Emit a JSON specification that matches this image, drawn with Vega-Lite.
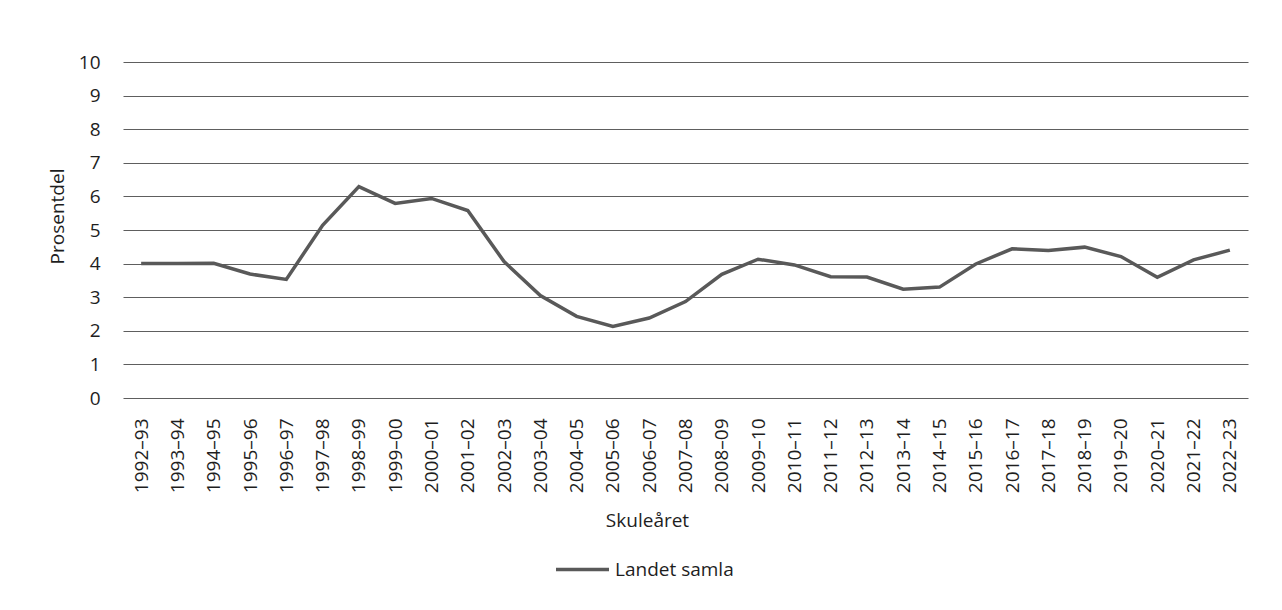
{
  "$schema": "https://vega.github.io/schema/vega-lite/v6.json",
  "width": 1125,
  "height": 336,
  "autosize": {"type": "none"},
  "padding": {"left": 123, "top": 62, "right": 34, "bottom": 212},
  "background": "white",
  "data": {
    "values": [
      {"year": "1992–93", "value": 4.0, "series": "Landet samla"},
      {"year": "1993–94", "value": 4.0, "series": "Landet samla"},
      {"year": "1994–95", "value": 4.01, "series": "Landet samla"},
      {"year": "1995–96", "value": 3.69, "series": "Landet samla"},
      {"year": "1996–97", "value": 3.53, "series": "Landet samla"},
      {"year": "1997–98", "value": 5.14, "series": "Landet samla"},
      {"year": "1998–99", "value": 6.29, "series": "Landet samla"},
      {"year": "1999–00", "value": 5.79, "series": "Landet samla"},
      {"year": "2000–01", "value": 5.94, "series": "Landet samla"},
      {"year": "2001–02", "value": 5.58, "series": "Landet samla"},
      {"year": "2002–03", "value": 4.06, "series": "Landet samla"},
      {"year": "2003–04", "value": 3.05, "series": "Landet samla"},
      {"year": "2004–05", "value": 2.43, "series": "Landet samla"},
      {"year": "2005–06", "value": 2.13, "series": "Landet samla"},
      {"year": "2006–07", "value": 2.38, "series": "Landet samla"},
      {"year": "2007–08", "value": 2.87, "series": "Landet samla"},
      {"year": "2008–09", "value": 3.68, "series": "Landet samla"},
      {"year": "2009–10", "value": 4.13, "series": "Landet samla"},
      {"year": "2010–11", "value": 3.96, "series": "Landet samla"},
      {"year": "2011–12", "value": 3.61, "series": "Landet samla"},
      {"year": "2012–13", "value": 3.6, "series": "Landet samla"},
      {"year": "2013–14", "value": 3.24, "series": "Landet samla"},
      {"year": "2014–15", "value": 3.3, "series": "Landet samla"},
      {"year": "2015–16", "value": 3.99, "series": "Landet samla"},
      {"year": "2016–17", "value": 4.44, "series": "Landet samla"},
      {"year": "2017–18", "value": 4.39, "series": "Landet samla"},
      {"year": "2018–19", "value": 4.49, "series": "Landet samla"},
      {"year": "2019–20", "value": 4.21, "series": "Landet samla"},
      {"year": "2020–21", "value": 3.59, "series": "Landet samla"},
      {"year": "2021–22", "value": 4.11, "series": "Landet samla"},
      {"year": "2022–23", "value": 4.4, "series": "Landet samla"}
    ]
  },
  "mark": {"type": "line", "strokeWidth": 3.5, "strokeJoin": "miter", "strokeCap": "butt"},
  "encoding": {
    "x": {
      "field": "year",
      "type": "ordinal",
      "sort": null,
      "scale": {"type": "point", "padding": 0.5},
      "axis": {
        "title": "Skuleåret",
        "labelAngle": -90,
        "labelPadding": 20,
        "labelOverlap": false,
        "ticks": false,
        "domain": false,
        "grid": false,
        "titleX": 524,
        "titleY": 122,
        "titleBaseline": "middle",
        "titleAnchor": "start",
        "titleAlign": "center"
      }
    },
    "y": {
      "field": "value",
      "type": "quantitative",
      "scale": {"domain": [0, 10], "nice": false},
      "axis": {
        "title": "Prosentdel",
        "values": [0, 1, 2, 3, 4, 5, 6, 7, 8, 9, 10],
        "labelOverlap": false,
        "ticks": false,
        "domain": false,
        "labelPadding": 23,
        "titleX": -66,
        "titleY": 154,
        "titleAngle": -90,
        "titleBaseline": "middle",
        "titleAlign": "center"
      }
    },
    "color": {
      "field": "series",
      "type": "nominal",
      "scale": {"range": ["#595959"]},
      "legend": {
        "title": null,
        "orient": "none",
        "legendX": 431,
        "legendY": 479,
        "symbolType": "stroke",
        "symbolSize": 2809,
        "symbolStrokeWidth": 3.5,
        "labelOffset": 4
      }
    }
  },
  "config": {
    "view": {"stroke": null},
    "font": "Open Sans",
    "axis": {
      "labelFont": "Open Sans",
      "titleFont": "Open Sans",
      "labelFontSize": 19,
      "titleFontSize": 19,
      "titleFontWeight": "normal",
      "labelColor": "#1e1e1e",
      "titleColor": "#1e1e1e",
      "gridColor": "#5e5e5e",
      "gridWidth": 1.2,
      "gridOpacity": 1
    },
    "legend": {
      "labelFont": "Open Sans",
      "labelFontSize": 19,
      "labelColor": "#1e1e1e"
    }
  }
}
